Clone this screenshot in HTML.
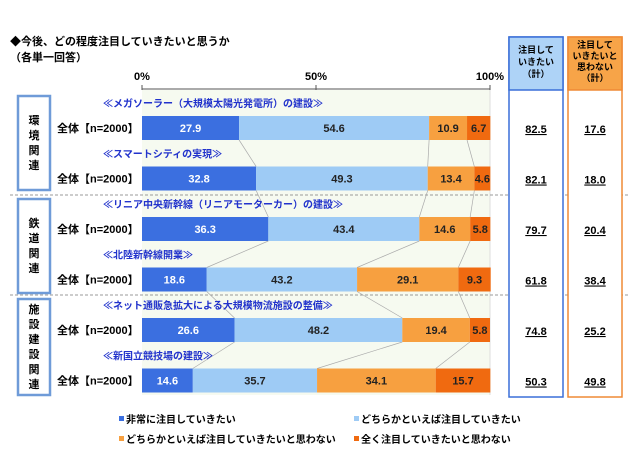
<!DOCTYPE html>
<html><head><meta charset="utf-8"><style>
body{margin:0;background:#fff;width:640px;height:457px;overflow:hidden;font-family:"Liberation Sans","Noto Sans CJK JP",sans-serif;}
svg text{font-family:"Liberation Sans","Noto Sans CJK JP",sans-serif;font-weight:bold;}
</style></head><body>
<svg width="640" height="457" id="c">
<text x="10" y="45" font-size="11">◆今後、どの程度注目していきたいと思うか</text>
<text x="10" y="61" font-size="11">（各単一回答）</text>
<rect x="142" y="90" width="348" height="305" fill="#f6faf0"/>
<line x1="142" y1="89" x2="490" y2="89" stroke="#555"/>
<line x1="490" y1="89" x2="490" y2="395" stroke="#ddd"/>
<g id="ticks"></g>
<line x1="10" y1="195" x2="628" y2="195" stroke="#999" stroke-dasharray="3,2"/>
<line x1="10" y1="295" x2="628" y2="295" stroke="#999" stroke-dasharray="3,2"/>
<rect x="509" y="37" width="54" height="360" fill="#fff" stroke="#3a6fd8" stroke-width="1.5"/>
<rect x="509" y="37" width="54" height="53" fill="#aed3f7" stroke="#3a6fd8" stroke-width="1.5"/>
<text font-size="9" text-anchor="middle"><tspan x="536" y="53">注目して</tspan><tspan x="536" y="65">いきたい</tspan><tspan x="536" y="77">（計）</tspan></text>
<rect x="568" y="37" width="54" height="360" fill="#fff" stroke="#ef8a35" stroke-width="1.5"/>
<rect x="568" y="37" width="54" height="53" fill="#f7a448" stroke="#ef8a35" stroke-width="1.5"/>
<text font-size="9" text-anchor="middle"><tspan x="595" y="48">注目して</tspan><tspan x="595" y="59">いきたいと</tspan><tspan x="595" y="70">思わない</tspan><tspan x="595" y="81">（計）</tspan></text>
<g id="groups"></g>
<g id="conn"></g>
<g id="bars"></g>
<g id="legend" font-size="10">
<rect x="119" y="416" width="5" height="5" fill="#3b6fe0"/>
<text x="126" y="423">非常に注目していきたい</text>
<rect x="354" y="416" width="5" height="5" fill="#9ecbf5"/>
<text x="361" y="423">どちらかといえば注目していきたい</text>
<rect x="119" y="436" width="5" height="5" fill="#f7a040"/>
<text x="126" y="443">どちらかといえば注目していきたいと思わない</text>
<rect x="354" y="436" width="5" height="5" fill="#f06a10"/>
<text x="361" y="443">全く注目していきたいと思わない</text>
</g>
</svg>
<script>
const categories=["≪メガソーラー（大規模太陽光発電所）の建設≫","≪スマートシティの実現≫","≪リニア中央新幹線（リニアモーターカー）の建設≫","≪北陸新幹線開業≫","≪ネット通販急拡大による大規模物流施設の整備≫","≪新国立競技場の建設≫"];
const veryInterested=[27.9,32.8,36.3,18.6,26.6,14.6];
const somewhatInterested=[54.6,49.3,43.4,43.2,48.2,35.7];
const somewhatNot=[10.9,13.4,14.6,29.1,19.4,34.1];
const notAtAll=[6.7,4.6,5.8,9.3,5.8,15.7];
const interestedTotal=["82.5","82.1","79.7","61.8","74.8","50.3"];
const notInterestedTotal=["17.6","18.0","20.4","38.4","25.2","49.8"];
const tickValues=[0,50,100];
const groupNames=["環境関連","鉄道関連","施設建設関連"];
const NS="http://www.w3.org/2000/svg";
const X0=142,X1=490;
const xs=v=>X0+(X1-X0)*v/100;
const rowY=i=>116+i*50.5;
const BH=24;
function mk(tag,attrs,parent,txt){const e=document.createElementNS(NS,tag);for(const k in attrs)e.setAttribute(k,attrs[k]);if(txt!==undefined)e.textContent=txt;parent.appendChild(e);return e;}
const tg=document.getElementById('ticks');
tickValues.forEach(t=>{
 const l=mk('line',{x1:xs(t),y1:85,x2:xs(t),y2:90,stroke:'#555'},tg);
 
 
 const tx=mk('text',{x:xs(t),y:80,'font-size':11,'text-anchor':'middle'},tg,t+'%');
 
 
});
const gg=document.getElementById('groups');
const gBoxes=[[96,94],[199,94],[299,96]];
groupNames.forEach((g,i)=>{
 const [y,h]=gBoxes[i];
 const r=mk('rect',{x:18,y:y,width:32,height:h,fill:'#fff',stroke:'#6f9bd8','stroke-width':2.5},gg);
 
 
 const chars=[...g];const lh=15;const sy=y+h/2-(chars.length*lh)/2+11;
 chars.forEach((c,j)=>{
  const t=mk('text',{x:34,y:sy+j*lh,'font-size':11,'text-anchor':'middle'},gg,c);
  
  
 });
});
const colors=['#3b6fe0','#9ecbf5','#f7a040','#f06a10'];
const txtCol=['#fff','#222','#222','#222'];
const bg=document.getElementById('bars');const cg=document.getElementById('conn');
categories.forEach((cat,i)=>{
 const y=rowY(i);
 const vals=[veryInterested[i],somewhatInterested[i],somewhatNot[i],notAtAll[i]];
 const ct=mk('text',{x:103,y:y-9,'font-size':10,fill:'#2233cc'},bg,cat);
 
 
 const rl=mk('text',{x:57,y:y+16,'font-size':11},bg,'全体【n=2000】');
 
 
 let cum=0;
 vals.forEach((v,k)=>{
  const a=xs(cum),b=xs(cum+v);
  const r=mk('rect',{x:a,y:y,width:b-a,height:BH,fill:colors[k]},bg);
  
  
  const t=mk('text',{x:(a+b)/2,y:y+16,'font-size':11,'text-anchor':'middle',fill:txtCol[k]},bg,v.toFixed(1));
  
  
  cum+=v;
  if(i<categories.length-1&&k<3){
   const nv=[veryInterested[i+1],somewhatInterested[i+1],somewhatNot[i+1]];
   let nc=0;for(let m=0;m<=k;m++)nc+=nv[m];
   const l=mk('line',{x1:b,y1:y+BH,x2:xs(nc),y2:rowY(i+1),stroke:'#aaa','stroke-width':0.7},cg);
   
   
  }
 });
 const t1=mk('text',{x:536,y:y+17,'font-size':11,'text-anchor':'middle','text-decoration':'underline'},bg,interestedTotal[i]);
 
 
 const t2=mk('text',{x:595,y:y+17,'font-size':11,'text-anchor':'middle','text-decoration':'underline'},bg,notInterestedTotal[i]);
 
 
});
</script>
</body></html>
